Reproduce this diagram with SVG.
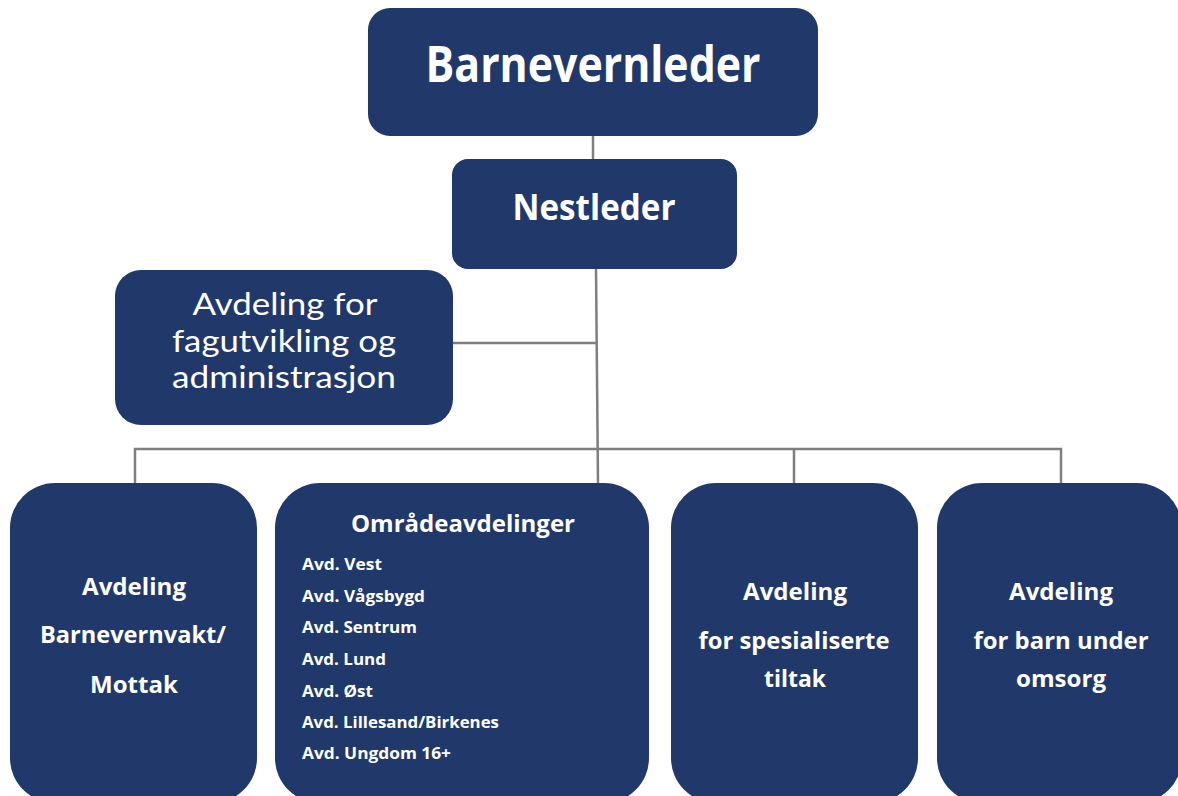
<svg xmlns="http://www.w3.org/2000/svg" width="1178" height="796" viewBox="0 0 1178 796">
<style>
.box{fill:#21386a}
.t{fill:#ffffff;font-family:"Open Sans","Liberation Sans",sans-serif;text-anchor:middle}
.f{fill:#ffffff;font-family:Lato,"Open Sans",sans-serif;text-anchor:middle;font-size:30px}
.b{font-weight:bold}
.li{fill:#ffffff;font-family:"Open Sans","Liberation Sans",sans-serif;font-weight:bold;font-size:16.5px}
.c{fill:none;stroke:#7f7f7f;stroke-width:2.5}
</style>
<rect width="1178" height="796" fill="#ffffff"/>
<g id="connectors">
<line class="c" x1="593" y1="136" x2="593" y2="160"/>
<line class="c" x1="596" y1="268" x2="598" y2="484"/>
<line class="c" x1="452" y1="343" x2="597" y2="343"/>
<polyline class="c" points="135,484 135,449 1061,449 1061,484"/>
<line class="c" x1="794" y1="449" x2="794" y2="484"/>
</g>
<g id="barnevernleder">
<rect class="box" x="368" y="8" width="450" height="128" rx="22"/>
<text class="t b" x="593" y="82" font-size="50" textLength="335" lengthAdjust="spacingAndGlyphs">Barnevernleder</text>
</g>
<g id="nestleder">
<rect class="box" x="452" y="159" width="285" height="110" rx="16"/>
<text class="t b" x="594" y="220" font-size="35" textLength="163" lengthAdjust="spacingAndGlyphs">Nestleder</text>
</g>
<g id="fagutvikling">
<rect class="box" x="115" y="270" width="338" height="155" rx="26"/>
<text class="f" x="285" y="315" textLength="185" lengthAdjust="spacingAndGlyphs">Avdeling for</text>
<text class="f" x="284" y="351.5" textLength="224" lengthAdjust="spacingAndGlyphs">fagutvikling og</text>
<text class="f" x="284" y="388" textLength="224" lengthAdjust="spacingAndGlyphs">administrasjon</text>
</g>
<g id="barnevernvakt">
<rect class="box" x="10" y="483" width="247" height="320" rx="45"/>
<text class="t b" x="134" y="595" font-size="24" textLength="104" lengthAdjust="spacingAndGlyphs">Avdeling</text>
<text class="t b" x="133" y="643" font-size="24" textLength="186" lengthAdjust="spacingAndGlyphs">Barnevernvakt/</text>
<text class="t b" x="134" y="693" font-size="24" textLength="88" lengthAdjust="spacingAndGlyphs">Mottak</text>
</g>
<g id="omradeavdelinger">
<rect class="box" x="275" y="483" width="374" height="320" rx="45"/>
<text class="t b" x="463" y="532" font-size="24" textLength="224" lengthAdjust="spacingAndGlyphs">Områdeavdelinger</text>
<text class="li" x="302" y="570" textLength="80" lengthAdjust="spacingAndGlyphs">Avd. Vest</text>
<text class="li" x="302" y="602" textLength="123" lengthAdjust="spacingAndGlyphs">Avd. Vågsbygd</text>
<text class="li" x="302" y="633" textLength="115" lengthAdjust="spacingAndGlyphs">Avd. Sentrum</text>
<text class="li" x="302" y="665" textLength="84" lengthAdjust="spacingAndGlyphs">Avd. Lund</text>
<text class="li" x="302" y="697" textLength="71" lengthAdjust="spacingAndGlyphs">Avd. Øst</text>
<text class="li" x="302" y="728" textLength="197" lengthAdjust="spacingAndGlyphs">Avd. Lillesand/Birkenes</text>
<text class="li" x="302" y="759" textLength="149" lengthAdjust="spacingAndGlyphs">Avd. Ungdom 16+</text>
</g>
<g id="spesialiserte">
<rect class="box" x="671" y="483" width="247" height="320" rx="45"/>
<text class="t b" x="795" y="600" font-size="24" textLength="104" lengthAdjust="spacingAndGlyphs">Avdeling</text>
<text class="t b" x="794" y="649" font-size="24" textLength="191" lengthAdjust="spacingAndGlyphs">for spesialiserte</text>
<text class="t b" x="795" y="687" font-size="24" textLength="62" lengthAdjust="spacingAndGlyphs">tiltak</text>
</g>
<g id="omsorg">
<rect class="box" x="937" y="483" width="245" height="320" rx="45"/>
<text class="t b" x="1061" y="600" font-size="24" textLength="104" lengthAdjust="spacingAndGlyphs">Avdeling</text>
<text class="t b" x="1061" y="649" font-size="24" textLength="175" lengthAdjust="spacingAndGlyphs">for barn under</text>
<text class="t b" x="1061" y="687" font-size="24" textLength="90" lengthAdjust="spacingAndGlyphs">omsorg</text>
</g>
</svg>
